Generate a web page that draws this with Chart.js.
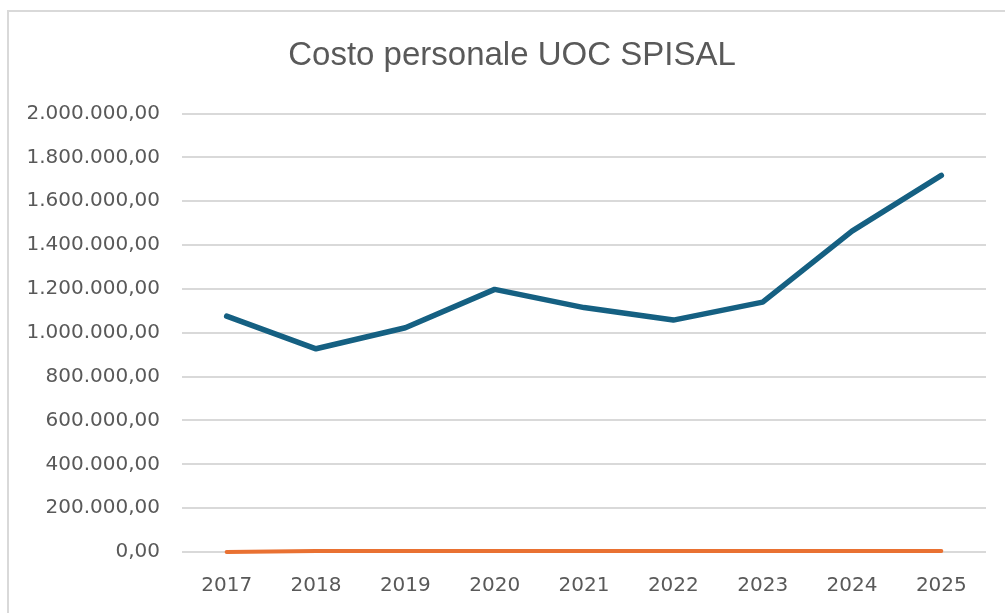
<!DOCTYPE html>
<html>
<head>
<meta charset="utf-8">
<script src="https://cdn.jsdelivr.net/npm/chart.js@4/dist/chart.umd.min.js"></script>
<style>
  html, body { margin: 0; padding: 0; background: #ffffff; }
  #wrap { position: relative; width: 1005px; height: 613px; overflow: hidden; }
  #frame { position: absolute; left: 7px; top: 10px; width: 1100px; height: 700px;
           border-left: 2px solid #d9d9d9; border-top: 2px solid #d9d9d9; box-sizing: border-box; }
  canvas { position: absolute; left: 0; top: 0; }
</style>
</head>
<body>
<div id="wrap">
  <div id="frame"></div>
  <canvas id="c" width="1005" height="613"></canvas>
</div>
<script>
const categories = ['2017', '2018', '2019', '2020', '2021', '2022', '2023', '2024', '2025'];
const costoPersonale = [1076000, 927000, 1023000, 1198000, 1115000, 1058000, 1140000, 1464000, 1718000];
const serie2 = [0, 4000, 4000, 4000, 4000, 4000, 4000, 4000, 4000];
const titleText = 'Costo personale UOC SPISAL';
const yMin = 0, yMax = 2000000, yStep = 200000;

function formatIt(v) {
  const parts = Math.abs(v).toFixed(2).split('.');
  const intPart = parts[0].replace(/\B(?=(\d{3})+(?!\d))/g, '.');
  return (v < 0 ? '-' : '') + intPart + ',' + parts[1];
}

// Centre the title over the whole chart frame (as the spreadsheet does)
const titleShift = {
  id: 'titleShift',
  afterLayout(chart) {
    const t = chart.titleBlock;
    if (t) { t.left += 38; }
  }
};

new Chart(document.getElementById('c'), {
  type: 'line',
  data: {
    labels: categories,
    datasets: [
      {
        label: 'Costo personale',
        data: costoPersonale,
        borderColor: '#156082',
        backgroundColor: '#156082',
        borderWidth: 5.5,
        pointRadius: 0,
        tension: 0,
        borderJoinStyle: 'round',
        borderCapStyle: 'round',
        order: 1
      },
      {
        label: 'Serie 2',
        data: serie2,
        borderColor: '#E97132',
        backgroundColor: '#E97132',
        borderWidth: 4,
        pointRadius: 0,
        tension: 0,
        clip: false,
        borderJoinStyle: 'round',
        borderCapStyle: 'round',
        order: 0
      }
    ]
  },
  plugins: [titleShift],
  options: {
    responsive: false,
    animation: false,
    devicePixelRatio: 1,
    layout: { padding: { left: 0, right: 19, top: 0, bottom: 0 } },
    plugins: {
      legend: { display: false },
      tooltip: { enabled: false },
      title: {
        display: true,
        text: titleText,
        color: '#595959',
        font: { family: "'Liberation Sans', Arial, sans-serif", size: 33, weight: 'normal' },
        padding: { top: 36, bottom: 38 }
      }
    },
    scales: {
      x: {
        offset: true,
        grid: { display: false, drawTicks: false, offset: true },
        border: { display: false },
        ticks: {
          color: '#595959',
          font: { family: "'DejaVu Sans', sans-serif", size: 20 },
          padding: 22,
          maxRotation: 0,
          autoSkip: false
        },
        afterFit(scale) { scale.height = 61; }
      },
      y: {
        min: yMin,
        max: yMax,
        grid: { color: '#d9d9d9', lineWidth: 2, drawTicks: false },
        border: { display: false },
        ticks: {
          stepSize: yStep,
          color: '#595959',
          font: { family: "'DejaVu Sans', sans-serif", size: 20 },
          padding: 22,
          callback: (v) => formatIt(v)
        },
        afterFit(scale) { scale.width = 182; }
      }
    }
  }
});
</script>
</body>
</html>
